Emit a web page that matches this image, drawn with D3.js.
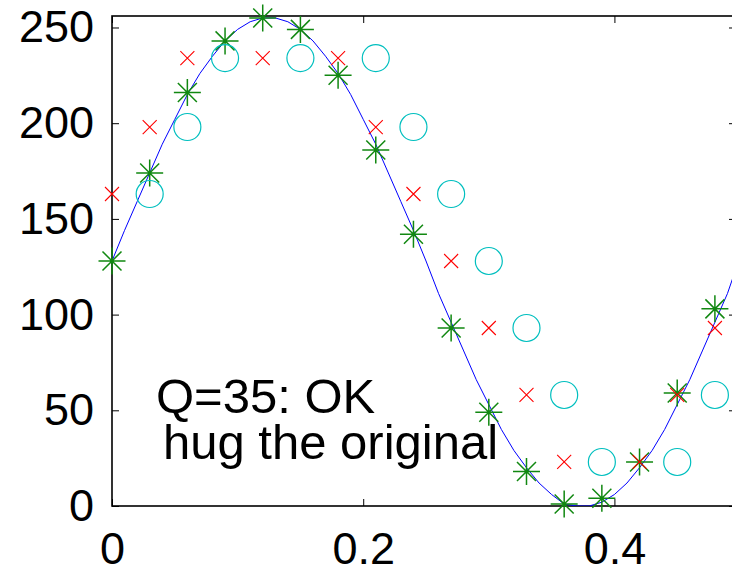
<!DOCTYPE html>
<html>
<head>
<meta charset="utf-8">
<script src="https://cdn.jsdelivr.net/npm/d3@7/dist/d3.min.js"></script>
<style>
body { margin: 0; background: #fff; }
svg { display: block; font-family: "Liberation Sans", Arial, sans-serif; }
</style>
</head>
<body>
<div id="chart"></div>
<script>
//original signal (blue line)
var origX = [0, 0.01, 0.02, 0.03, 0.04, 0.05, 0.06, 0.07, 0.08, 0.09,
  0.10, 0.11, 0.12, 0.13, 0.14, 0.15, 0.16, 0.17, 0.18, 0.19,
  0.20, 0.21, 0.22, 0.23, 0.24, 0.25, 0.26, 0.27, 0.28, 0.29,
  0.30, 0.31, 0.32, 0.33, 0.34, 0.35, 0.36, 0.37, 0.38, 0.39,
  0.40, 0.41, 0.42, 0.43, 0.44, 0.45, 0.46, 0.47, 0.48, 0.49, 0.4968];
var origY = [128, 144, 159, 174, 189, 202, 215, 226, 235, 243,
  249, 253, 255, 255, 253, 249, 243, 235, 226, 215,
  202, 189, 174, 159, 144, 128, 111, 96, 81, 66,
  53, 40, 29, 20, 12, 6, 1, 0, 0, 2,
  6, 12, 20, 29, 40, 53, 66, 81, 96, 111, 124];

//samples (green stars)
var sampX = [0, 0.03, 0.06, 0.09, 0.12, 0.15, 0.18, 0.21, 0.24, 0.27, 0.30, 0.33, 0.36, 0.39, 0.42, 0.45, 0.48];
var sampY = [128, 174, 216, 243, 255, 249, 225, 186, 142, 93, 49, 18, 1, 4, 23, 59, 103];

//quantized (red x)
var quantX = [0, 0.03, 0.06, 0.12, 0.18, 0.21, 0.24, 0.27, 0.30, 0.33, 0.36, 0.42, 0.45, 0.48];
var quantY = [163, 198, 234, 234, 234, 198, 163, 128, 93, 58, 23, 23, 58, 93];

//delayed (cyan circles)
var delayX = [0.03, 0.06, 0.09, 0.15, 0.21, 0.24, 0.27, 0.30, 0.33, 0.36, 0.39, 0.45, 0.48];
var delayY = [163, 198, 234, 234, 234, 198, 163, 128, 93, 58, 23, 23, 58];

var xTicks = [0, 0.2, 0.4];
var yTicks = [0, 50, 100, 150, 200, 250];
var noteLines = ["Q=35: OK", "hug the original"];

//set margins, width, and height
var margin = {top: 16, right: -4, bottom: 65, left: 112},
  width = 732 - margin.left - margin.right,
  height = 571 - margin.top - margin.bottom;

var x = d3.scaleLinear()
  .domain([0, 0.4968])
  .range([0, width]);

var y = d3.scaleLinear()
  .domain([0, 256])
  .range([height, 0]);

var svg = d3.select("#chart").append("svg")
  .attr("width", 732)
  .attr("height", 571);

var g = svg.append("g")
  .attr("transform", "translate(" + margin.left + "," + margin.top + ")");

svg.append("clipPath")
    .attr("id", "plot-clip")
  .append("rect")
    .attr("width", width)
    .attr("height", height);

//axes with inward ticks
g.append("g")
    .attr("class", "axis")
    .call(d3.axisLeft(y).tickValues(yTicks).tickSize(-7).tickPadding(18).tickFormat(d3.format("d")));

g.append("g")
    .attr("class", "axis")
    .attr("transform", "translate(0," + height + ")")
    .call(d3.axisBottom(x).tickValues(xTicks).tickSize(-7).tickPadding(26).tickFormat(function(d) { return d === 0 ? "0" : d3.format(".1f")(d); }));

g.append("g")
    .attr("class", "axis")
    .call(d3.axisTop(x).tickValues(xTicks).tickSize(-7).tickFormat(""));

g.append("g")
    .attr("class", "axis")
    .attr("transform", "translate(" + width + ",0)")
    .call(d3.axisRight(y).tickValues(yTicks).tickSize(-7).tickFormat(""));

g.selectAll(".axis .domain").remove();
g.selectAll(".axis line").attr("stroke", "#000").attr("stroke-width", 1);
g.selectAll(".axis text")
  .attr("fill", "#000")
  .attr("font-size", 45)
  .attr("font-family", "'Liberation Sans', Arial, sans-serif");

//frame
g.append("rect")
  .attr("width", width)
  .attr("height", height)
  .attr("fill", "none")
  .attr("stroke", "#000")
  .attr("stroke-width", 1.6);

var plot = g.append("g").attr("clip-path", "url(#plot-clip)");

//blue line
var line = d3.line()
  .x(function(d) { return x(d[0]); })
  .y(function(d) { return y(d[1]); });

plot.append("path")
  .datum(d3.zip(origX, origY))
  .attr("d", line)
  .attr("fill", "none")
  .attr("stroke", "#0000ff")
  .attr("stroke-width", 1);

//green stars
var star = "M-13.5,0H13.5M0,-13.5V13.5M-9.5,-9.5L9.5,9.5M-9.5,9.5L9.5,-9.5";
g.selectAll(".star")
    .data(d3.zip(sampX, sampY))
  .enter().append("path")
    .attr("class", "star")
    .attr("transform", function(d) { return "translate(" + x(d[0]) + "," + y(d[1]) + ")"; })
    .attr("d", star)
    .attr("fill", "none")
    .attr("stroke", "#118811")
    .attr("stroke-width", 1.5);

//red crosses
var cross = "M-7,-7L7,7M-7,7L7,-7";
g.selectAll(".cross")
    .data(d3.zip(quantX, quantY))
  .enter().append("path")
    .attr("class", "cross")
    .attr("transform", function(d) { return "translate(" + x(d[0]) + "," + y(d[1]) + ")"; })
    .attr("d", cross)
    .attr("fill", "none")
    .attr("stroke", "#ff0000")
    .attr("stroke-width", 1.1);

//cyan circles
g.selectAll(".ring")
    .data(d3.zip(delayX, delayY))
  .enter().append("circle")
    .attr("class", "ring")
    .attr("cx", function(d) { return x(d[0]); })
    .attr("cy", function(d) { return y(d[1]); })
    .attr("r", 13.5)
    .attr("fill", "none")
    .attr("stroke", "#00bfbf")
    .attr("stroke-width", 1.2);

//note text
g.selectAll(".note")
    .data(noteLines)
  .enter().append("text")
    .attr("class", "note")
    .attr("x", function(d, i) { return i === 0 ? 44 : 51; })
    .attr("y", function(d, i) { return 397 + i * 46; })
    .attr("fill", "#000")
    .attr("font-size", 49)
    .text(function(d) { return d; });
</script>
</body>
</html>
